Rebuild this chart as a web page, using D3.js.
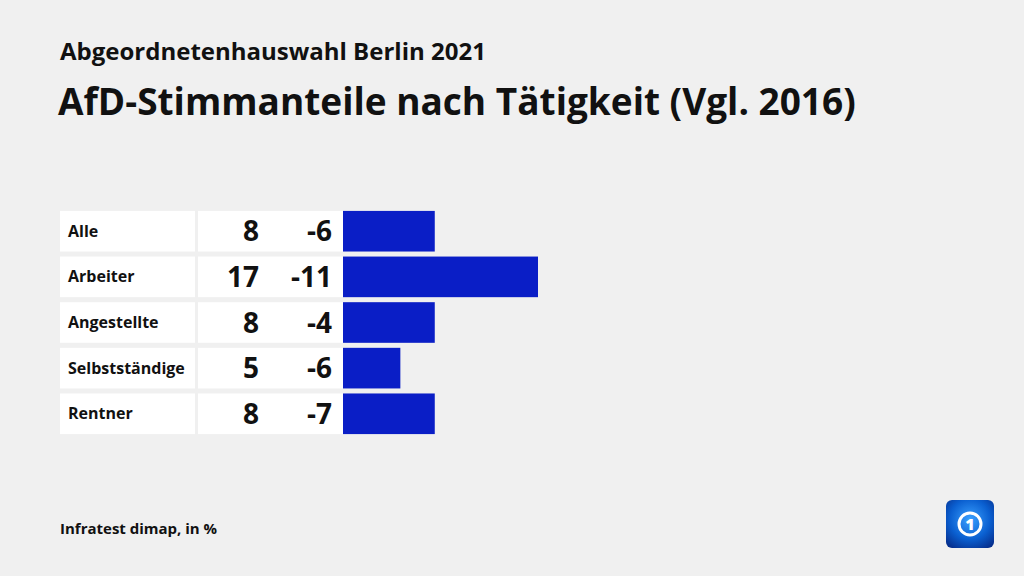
<!DOCTYPE html>
<html>
<head>
<meta charset="utf-8">
<script src="https://cdn.jsdelivr.net/npm/d3@7"></script>
<style>
  body { margin: 0; background: #f0f0f0; }
  svg { display: block; font-family: "Open Sans", sans-serif; }
</style>
</head>
<body>
<div id="chart"></div>
<script>
const categories = ['Alle', 'Arbeiter', 'Angestellte', 'Selbstständige', 'Rentner']
const values = [8, 17, 8, 5, 8]
const changes = [-6, -11, -4, -6, -7]

const width = 1024, height = 576
const svg = d3.select('#chart').append('svg')
    .attr('width', width)
    .attr('height', height)

svg.append('rect').attr('width', width).attr('height', height).attr('fill', '#f0f0f0')

svg.append('text')
    .attr('x', 60).attr('y', 60)
    .attr('font-size', 24).attr('font-weight', 700)
    .attr('fill', '#111')
    .text('Abgeordnetenhauswahl Berlin 2021')
svg.append('text')
    .attr('x', 58).attr('y', 115)
    .attr('font-size', 37).attr('font-weight', 700)
    .attr('fill', '#111')
    .text('AfD-Stimmanteile nach Tätigkeit (Vgl. 2016)')

const y = d3.scaleBand()
    .domain(categories)
    .range([210, 435])
    .paddingInner(0.11)
    .paddingOuter(0.02)

const x = d3.scaleLinear()
    .domain([0, 17])
    .range([343, 538])

const rows = svg.append('g').selectAll('g')
    .data(categories.map((c, i) => ({ cat: c, val: values[i], chg: changes[i] })))
    .join('g')

rows.append('rect')
    .attr('x', 60).attr('y', d => y(d.cat))
    .attr('width', 135).attr('height', y.bandwidth())
    .attr('fill', '#fff')
rows.append('rect')
    .attr('x', 198).attr('y', d => y(d.cat))
    .attr('width', 145).attr('height', y.bandwidth())
    .attr('fill', '#fff')
rows.append('rect')
    .attr('x', x(0)).attr('y', d => y(d.cat))
    .attr('width', d => x(d.val) - x(0)).attr('height', y.bandwidth())
    .attr('fill', '#0a1ec6')

rows.append('text')
    .attr('x', 68).attr('y', d => y(d.cat) + y.bandwidth() / 2)
    .attr('dy', '0.35em')
    .attr('font-size', 16).attr('font-weight', 700)
    .attr('fill', '#111')
    .text(d => d.cat)
rows.append('text')
    .attr('x', 259).attr('y', d => y(d.cat) + y.bandwidth() / 2)
    .attr('dy', '0.36em')
    .attr('text-anchor', 'end')
    .attr('font-size', 28).attr('font-weight', 700)
    .attr('fill', '#111')
    .text(d => d.val)
rows.append('text')
    .attr('x', 332).attr('y', d => y(d.cat) + y.bandwidth() / 2)
    .attr('dy', '0.36em')
    .attr('text-anchor', 'end')
    .attr('font-size', 28).attr('font-weight', 700)
    .attr('fill', '#111')
    .text(d => d.chg)

svg.append('text')
    .attr('x', 60).attr('y', 534)
    .attr('font-size', 15).attr('font-weight', 700)
    .attr('fill', '#111')
    .text('Infratest dimap, in %')

// logo
const defs = svg.append('defs')
const grad = defs.append('radialGradient').attr('id', 'logoGrad')
    .attr('cx', '50%').attr('cy', '40%').attr('r', '70%')
grad.append('stop').attr('offset', '0%').attr('stop-color', '#3aa0ff')
grad.append('stop').attr('offset', '60%').attr('stop-color', '#0a5fd0')
grad.append('stop').attr('offset', '100%').attr('stop-color', '#06308f')
const logo = svg.append('g').attr('transform', 'translate(946,500)')
logo.append('rect').attr('width', 48).attr('height', 48).attr('rx', 6).attr('fill', 'url(#logoGrad)')
logo.append('circle').attr('cx', 24).attr('cy', 24).attr('r', 11)
    .attr('fill', 'none').attr('stroke', '#fff').attr('stroke-width', 3)
logo.append('text').attr('x', 24).attr('y', 30).attr('text-anchor', 'middle')
    .attr('font-size', 16).attr('font-weight', 800).attr('fill', '#fff').text('1')
</script>
</body>
</html>
